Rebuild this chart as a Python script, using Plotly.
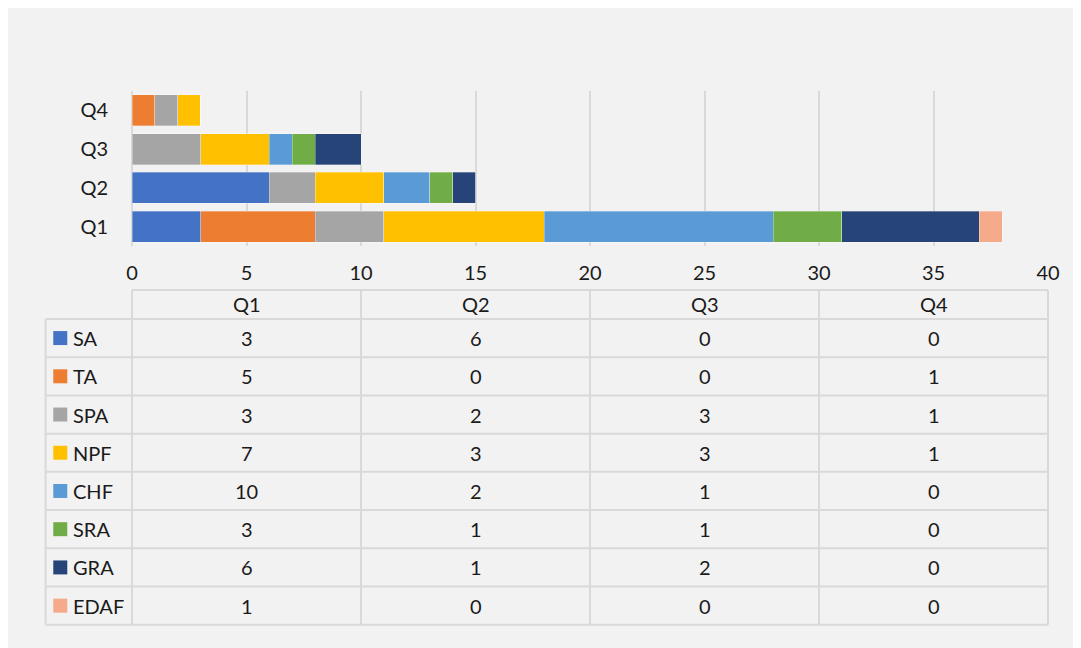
import plotly.graph_objects as go

# ---------------- data ----------------
quarters = ["Q1", "Q2", "Q3", "Q4"]
series_names = ["SA", "TA", "SPA", "NPF", "CHF", "SRA", "GRA", "EDAF"]
SA = [3, 6, 0, 0]
TA = [5, 0, 0, 1]
SPA = [3, 2, 3, 1]
NPF = [7, 3, 3, 1]
CHF = [10, 2, 1, 0]
SRA = [3, 1, 1, 0]
GRA = [6, 1, 2, 0]
EDAF = [1, 0, 0, 0]
x_ticks = [0, 5, 10, 15, 20, 25, 30, 35, 40]

series_values = [SA, TA, SPA, NPF, CHF, SRA, GRA, EDAF]
colors = ["#4472C4", "#ED7D31", "#A5A5A5", "#FFC000",
          "#5B9BD5", "#70AD47", "#264478", "#F4AA8B"]

# ---------------- geometry (page pixels; the page body adds an 8px margin) ----------------
OFF = 8
W, H = 1081, 648
plot_x0, plot_x1 = 131.5, 1048.5     # page pixels of x = 0 and x = 40
plot_y0, plot_y1 = 90.6, 245.9       # page pixels of plot top / bottom
L = plot_x0 - OFF
R = W - (plot_x1 - OFF)
T = plot_y0 - OFF
B = H - (plot_y1 - OFF)
PW = plot_x1 - plot_x0
PH = plot_y1 - plot_y0
FONT = "Lato"
FS = 20
TXT = "#1a1a1a"
GRID = "#d9d9d9"
BG = "#f2f2f2"


def px2x(px):
    return (px - plot_x0) / PW


def py2y(py):
    return (plot_y1 - py) / PH


fig = go.Figure()
for name, vals, col in zip(series_names, series_values, colors):
    fig.add_trace(go.Bar(
        y=quarters, x=vals, name=name, orientation="h",
        marker=dict(color=col, line=dict(color="rgba(255,255,255,0.5)", width=0.6)),
        hoverinfo="x+name",
    ))

shapes = []
annotations = []

# ---------------- data table ----------------
tab_left = 45
col_left = plot_x0
col_right = plot_x1
header_top = 290
header_bot = 319
row_h = 38.3
n_rows = len(series_names)
table_bot = header_bot + n_rows * row_h
n_cols = len(quarters)
col_w = (col_right - col_left) / n_cols
line_style = dict(color=GRID, width=2)

# horizontal lines
shapes.append(dict(type="line", xref="paper", yref="paper",
                   x0=px2x(col_left), x1=px2x(col_right),
                   y0=py2y(header_top), y1=py2y(header_top), line=line_style))
for k in range(n_rows + 1):
    yy = header_bot + k * row_h
    shapes.append(dict(type="line", xref="paper", yref="paper",
                       x0=px2x(tab_left), x1=px2x(col_right),
                       y0=py2y(yy), y1=py2y(yy), line=line_style))
# vertical lines
shapes.append(dict(type="line", xref="paper", yref="paper",
                   x0=px2x(tab_left), x1=px2x(tab_left),
                   y0=py2y(header_bot), y1=py2y(table_bot), line=line_style))
for c in range(n_cols + 1):
    xx = col_left + c * col_w
    shapes.append(dict(type="line", xref="paper", yref="paper",
                       x0=px2x(xx), x1=px2x(xx),
                       y0=py2y(header_top), y1=py2y(table_bot), line=line_style))

# header labels
for c, q in enumerate(quarters):
    annotations.append(dict(xref="paper", yref="paper",
                            x=px2x(col_left + (c + 0.5) * col_w),
                            y=py2y((header_top + header_bot) / 2),
                            text=q, showarrow=False, xanchor="center", yanchor="middle",
                            font=dict(family=FONT, size=FS, color=TXT)))

# rows
for r, (name, vals, col) in enumerate(zip(series_names, series_values, colors)):
    yc = header_bot + (r + 0.5) * row_h
    shapes.append(dict(type="rect", xref="paper", yref="paper",
                       x0=px2x(52.7), x1=px2x(66.7),
                       y0=py2y(yc - 7), y1=py2y(yc + 7),
                       fillcolor=col, line=dict(width=0)))
    annotations.append(dict(xref="paper", yref="paper", x=px2x(70.0), y=py2y(yc),
                            text=name, showarrow=False, xanchor="left", yanchor="middle",
                            font=dict(family=FONT, size=FS, color=TXT)))
    for c, v in enumerate(vals):
        annotations.append(dict(xref="paper", yref="paper",
                                x=px2x(col_left + (c + 0.5) * col_w), y=py2y(yc),
                                text=str(v), showarrow=False, xanchor="center",
                                yanchor="middle",
                                font=dict(family=FONT, size=FS, color=TXT)))

fig.update_layout(
    width=W, height=H,
    margin=dict(l=L, r=R, t=T, b=B, pad=0),
    paper_bgcolor=BG,
    plot_bgcolor=BG,
    barmode="stack",
    bargap=0.2,
    showlegend=False,
    shapes=shapes,
    annotations=annotations,
    font=dict(family=FONT, size=FS, color=TXT),
    xaxis=dict(range=[0, 40], tickvals=x_ticks, showgrid=True, gridcolor=GRID,
               gridwidth=1.5, zeroline=True, zerolinecolor=GRID, zerolinewidth=1.5,
               showline=False, ticks="", ticklabelstandoff=13,
               tickfont=dict(family=FONT, size=FS, color=TXT), fixedrange=True),
    yaxis=dict(categoryorder="array", categoryarray=quarters, showgrid=False,
               zeroline=False, showline=False, ticks="", ticklabelstandoff=23,
               tickfont=dict(family=FONT, size=FS, color=TXT), fixedrange=True),
)

fig.write_html("out.html")
